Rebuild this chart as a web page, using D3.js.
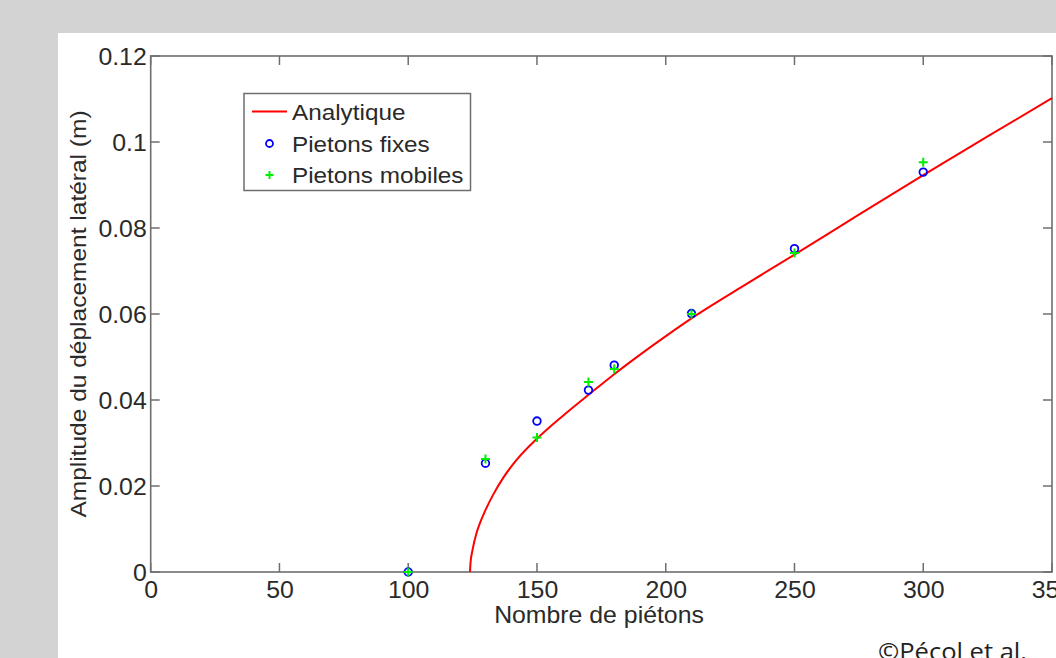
<!DOCTYPE html>
<html><head><meta charset="utf-8">
<script src="https://cdn.jsdelivr.net/npm/d3@7"></script>
<style>body{margin:0;background:#d3d3d3;overflow:hidden;} svg{display:block;}</style>
</head><body>
<svg id="chart" width="1056" height="658"></svg>
<script>
const xTicks = [0,50,100,150,200,250,300,350];
const yTicks = [0,0.02,0.04,0.06,0.08,0.1,0.12];
const yTickLabels = ["0","0.02","0.04","0.06","0.08","0.1","0.12"];
const fixesN = [100,130,150,170,180,210,250,300];
const fixesA = [0,0.0253,0.0351,0.0423,0.0481,0.0601,0.0752,0.0930];
const mobilesN = [100,130,150,170,180,210,250,300];
const mobilesA = [0,0.0263,0.0313,0.0442,0.0472,0.0600,0.0742,0.0953];
const analytN = [124,124.2,125,126.5,128,130,133,137,142,150,160,170,180,195,210,230,250,275,300,325,350];
const analytA = [0,0.0022,0.0052,0.0090,0.0116,0.0144,0.0180,0.0220,0.0260,0.0310,0.0363,0.0412,0.0460,0.0527,0.0590,0.0665,0.0738,0.0831,0.0923,0.1013,0.1102];
const legendLabels = ["Analytique","Pietons fixes","Pietons mobiles"];

const svg = d3.select("#chart");
const SX = 1.08;
const FONT = "'Liberation Sans', Arial, sans-serif";
const TXT = "#2a2a2a";
const AX = "#6e6e6e";

// white panel
svg.append("rect").attr("x",58).attr("y",33).attr("width",1056-58).attr("height",658-33).attr("fill","#fff");

const x = d3.scaleLinear().domain([0,350]).range([150.7,1052]);
const y = d3.scaleLinear().domain([0,0.12]).range([572,56]);

function label(g, px, py, str, anchor, size, rot) {
  return g.append("text")
    .attr("transform", `translate(${px},${py})` + (rot ? ` rotate(${rot})` : "") + ` scale(${SX},1)`)
    .attr("text-anchor", anchor)
    .attr("font-family", FONT)
    .attr("font-size", size)
    .attr("fill", TXT)
    .text(str);
}

// ticks (inward on all four sides)
const tg = svg.append("g");
const tickLen = 9;
xTicks.forEach(v => {
  tg.append("line").attr("x1",x(v)).attr("x2",x(v)).attr("y1",y(0)).attr("y2",y(0)-tickLen).attr("stroke",AX).attr("stroke-width",1.5);
  tg.append("line").attr("x1",x(v)).attr("x2",x(v)).attr("y1",y(0.12)).attr("y2",y(0.12)+tickLen).attr("stroke",AX).attr("stroke-width",1.5);
});
yTicks.forEach(v => {
  tg.append("line").attr("x1",x(0)).attr("x2",x(0)+tickLen).attr("y1",y(v)).attr("y2",y(v)).attr("stroke",AX).attr("stroke-width",1.5);
  tg.append("line").attr("x1",x(350)).attr("x2",x(350)-tickLen).attr("y1",y(v)).attr("y2",y(v)).attr("stroke",AX).attr("stroke-width",1.5);
});

// tick labels via d3 axes (domain hidden)
const xAxis = d3.axisBottom(x).tickValues(xTicks).tickSize(0).tickPadding(0).tickFormat(d3.format("d"));
const gx = svg.append("g").attr("transform",`translate(0,${y(0)})`).call(xAxis);
gx.select(".domain").remove();
gx.selectAll("text").attr("font-family",FONT).attr("font-size",23).attr("fill",TXT)
  .attr("y",26).attr("dy",0).attr("transform",`scale(${SX},1)`).attr("x",0);

const yAxis = d3.axisLeft(y).tickValues(yTicks).tickSize(0).tickPadding(0).tickFormat((d,i)=>yTickLabels[i]);
const gy = svg.append("g").attr("transform",`translate(${x(0)},0)`).call(yAxis);
gy.select(".domain").remove();
gy.selectAll("text").attr("font-family",FONT).attr("font-size",23).attr("fill",TXT)
  .attr("x",-4/SX).attr("dy","0.35em").attr("transform",`scale(${SX},1)`);

// box
svg.append("rect").attr("x",x(0)).attr("y",y(0.12)).attr("width",x(350)-x(0)).attr("height",y(0)-y(0.12))
  .attr("fill","none").attr("stroke",AX).attr("stroke-width",1.6);

// axis titles
label(svg, 599, 623, "Nombre de piétons", "middle", 23);
label(svg, 86, 314, "Amplitude du déplacement latéral (m)", "middle", 22.7, -90);

// analytic curve
const line = d3.line().x((d,i)=>x(analytN[i])).y((d,i)=>y(analytA[i])).curve(d3.curveMonotoneX);
svg.append("path").datum(analytA).attr("d",line).attr("fill","none").attr("stroke","#ff0000").attr("stroke-width",2);

// Pietons fixes
svg.append("g").selectAll("circle").data(fixesA).join("circle")
  .attr("cx",(d,i)=>x(fixesN[i])).attr("cy",d=>y(d)).attr("r",3.8)
  .attr("fill","none").attr("stroke","#0000ff").attr("stroke-width",1.8);

// Pietons mobiles
const plus = (cx,cy,s) => `M${cx-s},${cy}H${cx+s}M${cx},${cy-s}V${cy+s}`;
svg.append("g").selectAll("path").data(mobilesA).join("path")
  .attr("d",(d,i)=>plus(x(mobilesN[i]),y(d),4.5))
  .attr("stroke","#00ee00").attr("stroke-width",2).attr("fill","none");

// legend
const lg = svg.append("g");
lg.append("rect").attr("x",244).attr("y",93.5).attr("width",226.5).attr("height",97)
  .attr("fill","#fff").attr("stroke",AX).attr("stroke-width",1.5);
const rows = [111.5,143.5,175];
lg.append("line").attr("x1",252).attr("x2",287).attr("y1",rows[0]).attr("y2",rows[0]).attr("stroke","#ff0000").attr("stroke-width",2);
lg.append("circle").attr("cx",269.5).attr("cy",rows[1]).attr("r",3.5).attr("fill","none").attr("stroke","#0000ff").attr("stroke-width",1.8);
lg.append("path").attr("d",plus(269.5,rows[2],4)).attr("stroke","#00ee00").attr("stroke-width",2);
legendLabels.forEach((s,i)=>{
  label(lg, 292, rows[i]+8, s, "start", 22.5);
});

// credit
svg.append("text").attr("x",878).attr("y",660).attr("font-family","'Open Sans', 'Noto Sans', sans-serif")
  .attr("font-size",23).attr("fill","#222").attr("textLength",149).attr("lengthAdjust","spacingAndGlyphs")
  .text("©Pécol et al.");
</script>
</body></html>
